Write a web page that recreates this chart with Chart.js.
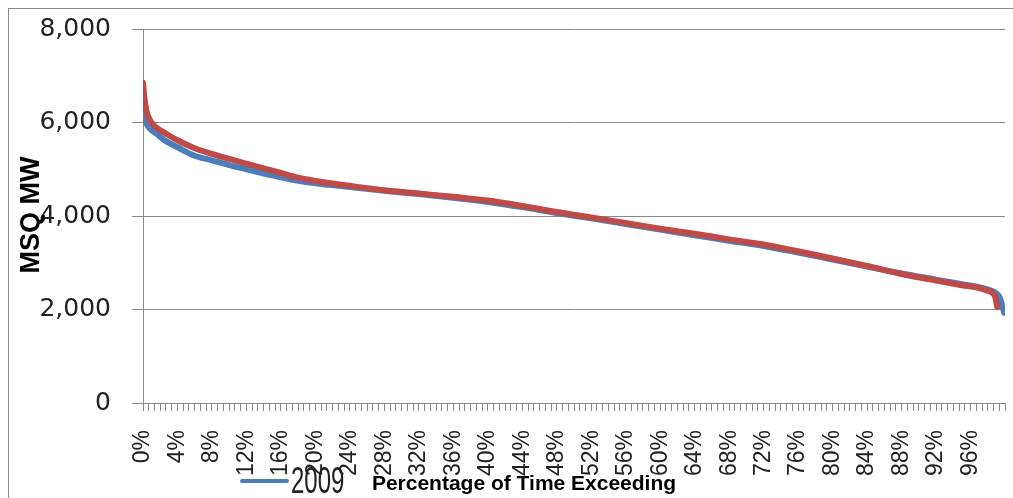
<!DOCTYPE html>
<html>
<head>
<meta charset="utf-8">
<script src="https://cdn.jsdelivr.net/npm/chart.js@4/dist/chart.umd.min.js"></script>
<style>
    body { margin: 0; background: #fff; }
    #wrap { width: 1013px; height: 498px; position: relative; }
</style>
</head>
<body>
<div id="wrap"><canvas id="chartCurva"></canvas></div>
<script>
// Datos (MW vs % del tiempo excedido)
const pct = [0, 0.15, 0.4, 0.8, 1.5, 2.5, 4, 6, 8, 10,
    12, 14, 16, 18, 20, 24, 28, 32, 36, 40,
    44, 48, 52, 56, 60, 64, 68, 72, 76, 80,
    84, 88, 92, 95, 97, 98, 98.8, 99.1, 99.4, 99.9];
const mw2009 = [6270, 6100, 5980, 5870, 5770, 5620, 5470, 5290, 5190, 5090,
    5000, 4910, 4830, 4755, 4700, 4620, 4540, 4470, 4390, 4300,
    4190, 4065, 3950, 3830, 3710, 3590, 3470, 3360, 3220, 3070,
    2920, 2770, 2640, 2540, 2480, 2430, 2370, 2330, 2250, 1930];
const mw2010 = [6850, 6550, 6250, 6050, 5900, 5780, 5620, 5450, 5330, 5220,
    5120, 5020, 4920, 4820, 4750, 4645, 4550, 4480, 4410, 4330,
    4215, 4085, 3970, 3850, 3730, 3620, 3500, 3390, 3245, 3090,
    2930, 2760, 2620, 2520, 2460, 2400, 2300, 2050, null, null];
const yTicks = [0, 2000, 4000, 6000, 8000];
const series = ['2009', '2010'];
const colores = ['#4A7EBB', '#BE4B48'];
const tituloY = 'MSQ MW';
const tituloX = 'Percentage of Time Exceeding';

const GRIS = '#898989';

function puntos(valores) {
    return pct.map((p, i) => ({ x: p, y: valores[i] })).filter(d => d.y !== null);
}

// Textos, leyenda y borde dibujados encima (como en Excel se solapan)
const extras = {
    id: 'extras',
    afterDraw(chart) {
        const ctx = chart.ctx;
        ctx.save();
        ctx.strokeStyle = GRIS;
        ctx.lineWidth = 1;
        ctx.strokeRect(8.5, 8.5, 1200, 800);

        // titulo eje Y
        ctx.fillStyle = '#000';
        ctx.font = 'bold 27px "Liberation Sans"';
        ctx.textAlign = 'center';
        ctx.textBaseline = 'middle';
        ctx.save();
        ctx.translate(31, 215);
        ctx.rotate(-Math.PI / 2);
        ctx.fillText(tituloY, 0, 1);
        ctx.restore();

        // leyenda (solo 2009 visible)
        ctx.strokeStyle = colores[0];
        ctx.lineWidth = 4;
        ctx.lineCap = 'round';
        ctx.beginPath();
        ctx.moveTo(242, 481);
        ctx.lineTo(287, 481);
        ctx.stroke();
        ctx.save();
        ctx.translate(291, 493);
        ctx.scale(1, 1.55);
        ctx.font = '24px "Liberation Sans"';
        ctx.textAlign = 'left';
        ctx.textBaseline = 'alphabetic';
        ctx.fillStyle = '#222';
        ctx.fillText(series[0], 0, 0);
        ctx.restore();

        // titulo eje X
        ctx.font = 'bold 21px "Liberation Sans"';
        ctx.textAlign = 'center';
        ctx.textBaseline = 'alphabetic';
        ctx.fillStyle = '#000';
        ctx.fillText(tituloX, 524, 490);
        ctx.restore();
    }
};

const ctx = document.getElementById('chartCurva').getContext('2d');
const chart = new Chart(ctx, {
    type: 'line',
    data: {
        datasets: [{
            label: series[0],
            data: puntos(mw2009),
            borderColor: colores[0],
            borderWidth: 6,
            order: 1
        }, {
            label: series[1],
            data: puntos(mw2010),
            borderColor: colores[1],
            borderWidth: 6,
            order: 0
        }]
    },
    options: {
        responsive: true,
        maintainAspectRatio: false,
        animation: false,
        layout: { padding: { left: 0, top: 29, right: 8, bottom: 0 } },
        elements: {
            point: { radius: 0 },
            line: { cubicInterpolationMode: 'monotone', borderCapStyle: 'round', borderJoinStyle: 'round' }
        },
        plugins: {
            legend: { display: false },
            tooltip: { enabled: false }
        },
        scales: {
            x: {
                type: 'linear',
                min: 0,
                max: 100,
                afterBuildTicks: (scale) => {
                    const t = [];
                    for (let i = 0; i <= 150; i++) t.push({ value: i * 100 / 150 });
                    scale.ticks = t;
                },
                afterFit: (scale) => {
                    scale.height = 95;
                    scale.paddingLeft = 0;
                    scale.paddingRight = 0;
                },
                grid: { drawOnChartArea: false, drawTicks: true, tickLength: 8, color: GRIS },
                border: { color: GRIS },
                ticks: {
                    autoSkip: false,
                    minRotation: 90,
                    maxRotation: 90,
                    padding: 19,
                    color: '#222',
                    font: { family: 'Liberation Sans', size: 23 },
                    callback: function (value, index) {
                        if (index % 6 !== 0 || value > 99) return '';
                        return Math.round(value) + '%';
                    }
                }
            },
            y: {
                min: 0,
                max: 8000,
                afterBuildTicks: (scale) => { scale.ticks = yTicks.map(v => ({ value: v })); },
                afterFit: (scale) => {
                    scale.width = 143;
                    scale.paddingTop = 0;
                    scale.paddingBottom = 0;
                },
                grid: { color: GRIS, tickLength: 11 },
                border: { color: GRIS },
                ticks: {
                    padding: 21,
                    color: '#222',
                    font: { family: 'DejaVu Sans', size: 25 },
                    callback: (v) => v.toLocaleString('en-US')
                }
            }
        }
    },
    plugins: [extras]
});
</script>
</body>
</html>
